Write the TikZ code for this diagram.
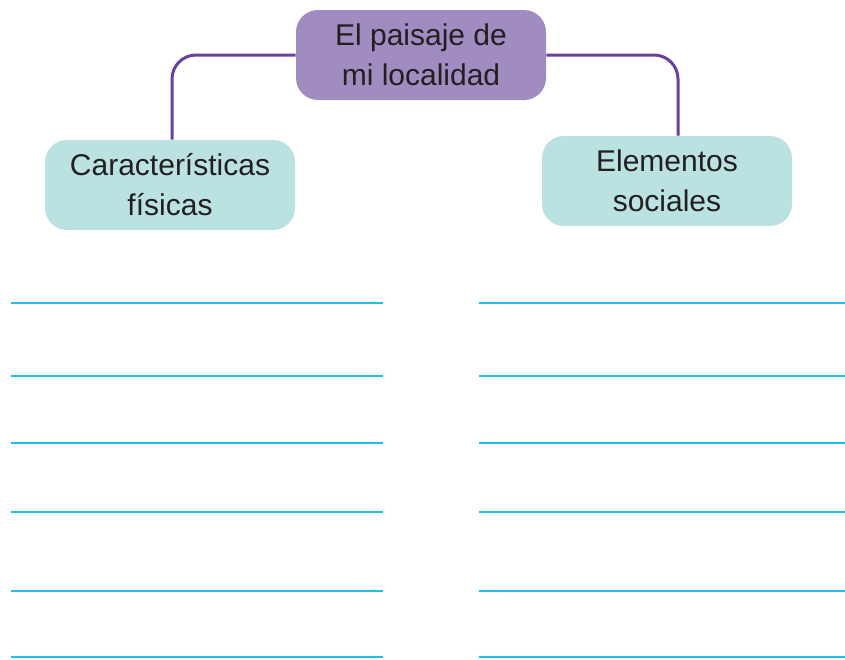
\documentclass[tikz,border=0pt]{standalone}
\usepackage{fontspec}
\setmainfont{Liberation Sans}
\usepackage{tikz}
\usetikzlibrary{positioning}
\definecolor{temapurple}{HTML}{A18CC2}
\definecolor{ramapurple}{HTML}{6B3FA0}
\definecolor{ramaaqua}{HTML}{BAE2E0}
\definecolor{lineablue}{HTML}{1EBEEE}
\definecolor{textogris}{HTML}{231F20}
\tikzset{tema/.style = {fill=temapurple, rounded corners=11pt, minimum width=125pt,
                        minimum height=45pt, align=center, text=textogris,
                        font=\fontsize{15}{20}\selectfont},
         rama/.style = {tema, fill=ramaaqua},
         enlace/.style = {draw=ramapurple, line width=1.5pt, rounded corners=12pt},
         renglon/.style = {draw=lineablue, line width=1pt}}

\begin{document}
\begin{tikzpicture}[x=0.5pt, y=-0.5pt]
    \useasboundingbox (0, 0) rectangle (845, 659);

    \node [tema] (paisaje) at (421, 55) {El paisaje de\\mi localidad};
    \node [rama] (fisicas) at (170, 185) {Características\\físicas};
    \node [rama] (sociales) at (667, 181) {Elementos\\sociales};

    \draw [enlace] (paisaje.west) -| ([xshift=1pt]fisicas.north);
    \draw [enlace] (paisaje.east) -| ([xshift=5.5pt]sociales.north);

    % renglones para escribir
    \foreach \y in {303, 376, 443, 512, 591, 657} {
        \draw [renglon] (11, \y) -- (383, \y);
        \draw [renglon] (479, \y) -- (845, \y);
    }
  \end{tikzpicture}
\end{document}
